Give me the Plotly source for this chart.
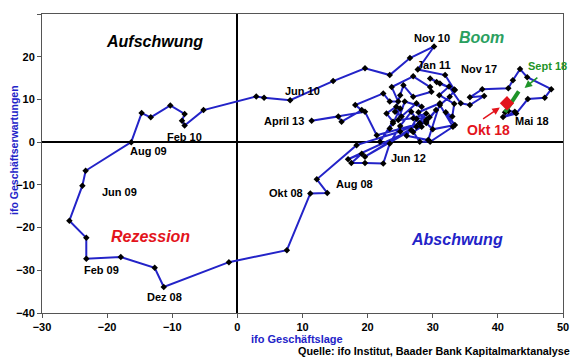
import plotly.graph_objects as go

# ifo Geschäftslage (x) und Geschäftserwartungen (y), monatlich Jul 08 - Aug 18 (Werte aus dem Bild geschätzt)
geschaeftslage = [
    29.0, 25.0, 18.3,
    12.2, 13.8, 11.2, 7.6, -1.3, -11.3, -12.7, -17.9, -23.2, -23.2, -25.8, -23.8, -23.3,
    -16.3, -14.7, -13.3, -10.3, -8.1, -8.5, -8.1, -5.2, 2.9, 4.1, 8.1, 14.7, 19.6, 23.4, 26.5, 30.2,
    27.7, 31.9, 33.3, 30.6, 29.6, 31.1, 33.4, 32.6, 31.1, 33.1, 29.6, 28.0,
    27.0, 28.3, 28.0, 26.7, 25.0, 23.4, 22.4, 19.6, 17.5, 19.1, 17.0, 26.7, 19.6,
    28.0, 21.4, 19.6, 11.4, 15.5, 16.0, 19.1, 18.1, 22.4, 23.4, 24.7, 23.7,
    27.0, 29.6, 29.8, 27.0, 25.5, 25.0, 24.4, 22.9, 23.9, 21.9, 23.4, 23.9,
    25.0, 24.2, 25.2, 27.5, 28.3, 25.7, 24.7, 27.0, 29.0, 27.5, 29.0, 27.8,
    31.1, 29.3, 26.0, 27.5, 29.5, 30.5, 29.0, 30.0, 33.4, 32.0, 33.0, 33.3,
    31.0, 32.5, 34.3, 35.7, 37.9, 35.7, 37.6, 41.6, 42.3, 43.4, 44.5,
    48.2, 47.2, 44.6, 42.8, 40.8, 42.6, 41.6, 41.1,
]
geschaeftserwartungen = [
    5.2, 2.5, -0.7,
    -8.7, -11.9, -12.0, -25.3, -28.1, -33.9, -29.4, -26.9, -27.3, -22.4, -18.4, -10.2, -6.7,
    0.0, 6.8, 5.8, 8.6, 6.6, 5.0, 3.9, 7.5, 10.7, 10.4, 9.8, 14.3, 17.3, 15.7, 19.7, 22.4,
    17.0, 15.7, 12.3, 14.1, 14.9, 13.7, 12.2, 10.6, 8.7, 3.6, 0.1, 0.1,
    2.4, 3.6, 4.4, 7.1, 3.8, -0.3, -5.0, -4.9, -4.9, -2.7, -4.0, 2.8, -3.4,
    4.4, 1.6, 7.1, 5.0, 6.0, 4.8, 7.5, 8.7, 11.4, 9.5, 9.5, 12.9,
    15.4, 12.9, 11.8, 10.6, 13.3, 11.0, 8.3, 6.7, 4.8, 0.1, 3.2, 4.4,
    7.9, 7.1, 6.0, 9.1, 8.3, 9.5, 5.2, 5.6, 6.7, 3.6, 4.8, 7.0,
    9.1, 0.5, 1.5, 5.5, 5.8, 7.5, 4.5, 3.0, 4.0, 7.0, 6.0, 9.0,
    11.0, 13.0, 9.1, 8.7, 10.8, 10.5, 12.4, 12.6, 14.5, 17.1, 15.2,
    12.4, 10.4, 10.1, 6.7, 5.9, 7.1, 7.3, 7.0,
]

# Sept 18 (grün) und Okt 18 (rot)
sept18_lage = [41.1, 43.2]
sept18_erw = [7.0, 11.9]
okt18_lage = [41.4]
okt18_erw = [9.1]

x_ticks = [-30, -20, -10, 0, 10, 20, 30, 40, 50]
y_ticks = [-40, -30, -20, -10, 0, 10, 20, 30]

FONT = "Liberation Sans, Arial, sans-serif"
BLUE = "#2323c8"
GREEN = "#1e9428"
RED = "#e3141c"

fig = go.Figure()
fig.add_trace(go.Scatter(
    x=geschaeftslage, y=geschaeftserwartungen, mode="lines+markers",
    line=dict(color=BLUE, width=2),
    marker=dict(symbol="diamond", size=5, color="black"),
    showlegend=False, hoverinfo="skip",
))
fig.add_trace(go.Scatter(
    x=sept18_lage, y=sept18_erw, mode="lines",
    line=dict(color=GREEN, width=4), showlegend=False, hoverinfo="skip",
))
fig.add_trace(go.Scatter(
    x=okt18_lage, y=okt18_erw, mode="markers",
    marker=dict(symbol="diamond", size=11, color=RED),
    showlegend=False, hoverinfo="skip",
))

def txt(x, y, s, size=11, color="black", italic=False, angle=0, xanchor="center", ref="data"):
    t = f"<b>{s}</b>"
    if italic:
        t = f"<i>{t}</i>"
    xr, yr = ("x", "y") if ref == "data" else ("paper", "paper")
    fig.add_annotation(x=x, y=y, xref=xr, yref=yr, text=t, showarrow=False,
                       font=dict(family=FONT, size=size, color=color),
                       textangle=angle, xanchor=xanchor, yanchor="middle")

# Quadrant names
txt(-12.8, 23.5, "Aufschwung", size=16, italic=True)
txt(37.5, 24.4, "Boom", size=16, color="#2aa060", italic=True)
txt(-13.3, -22.2, "Rezession", size=16, color=RED, italic=True)
txt(33.7, -22.8, "Abschwung", size=16, color=BLUE, italic=True)

# Month labels
labels = [
    (29.9, 24.4, "Nov 10"), (30.2, 18.1, "Jan 11"), (37.1, 17.1, "Nov 17"),
    (45.2, 5.0, "Mai 18"), (26.3, -3.7, "Jun 12"), (10.0, 12.0, "Jun 10"),
    (7.2, 5.0, "April 13"), (-8.1, 1.3, "Feb 10"), (-13.7, -2.0, "Aug 09"),
    (-18.1, -11.7, "Jun 09"), (-20.9, -30.0, "Feb 09"), (-11.2, -36.3, "Dez 08"),
    (7.5, -11.9, "Okt 08"), (18.0, -9.8, "Aug 08"),
]
for lx, ly, s in labels:
    txt(lx, ly, s, size=11)

txt(38.5, 2.9, "Okt 18", size=14, color=RED)
txt(47.6, 17.9, "Sept 18", size=11, color=GREEN)

# Arrows
fig.add_annotation(x=44.1, y=12.7, ax=46.3, ay=15.4, xref="x", yref="y", axref="x", ayref="y",
                   text="", showarrow=True, arrowhead=2, arrowsize=1, arrowwidth=1.5, arrowcolor=GREEN)
fig.add_annotation(x=40.3, y=8.1, ax=37.5, ay=5.2, xref="x", yref="y", axref="x", ayref="y",
                   text="", showarrow=True, arrowhead=2, arrowsize=1, arrowwidth=1.5, arrowcolor=RED)

# Axis titles and source (paper coordinates)
txt(0.490, -0.088, "ifo Geschäftslage", size=11, color=BLUE, ref="paper")
txt(-0.054, 0.545, "ifo Geschäftserwartungen", size=10.5, color=BLUE, angle=-90, ref="paper")
txt(1.018, -0.128, "Quelle: ifo Institut, Baader Bank Kapitalmarktanalyse", size=10.8,
    xanchor="right", ref="paper")

axis_common = dict(
    showgrid=False, zeroline=True, zerolinecolor="black", zerolinewidth=2,
    showline=True, mirror=True, linecolor="#555555", linewidth=1,
    ticks="outside", ticklen=4, tickcolor="#555555",
    tickfont=dict(family=FONT, size=11, color="black", weight="bold"),
)
fig.update_xaxes(range=[-30, 50], tickvals=x_ticks, **axis_common)
fig.update_yaxes(range=[-40, 30], tickvals=y_ticks, **axis_common)

# page body has an 8px margin, so the figure is shifted by 8px; compensate
fig.update_layout(
    width=572, height=351,
    margin=dict(l=34, r=17, t=6, b=46),
    plot_bgcolor="white", paper_bgcolor="white",
    font=dict(family=FONT),
)

fig.write_html("out.html")
